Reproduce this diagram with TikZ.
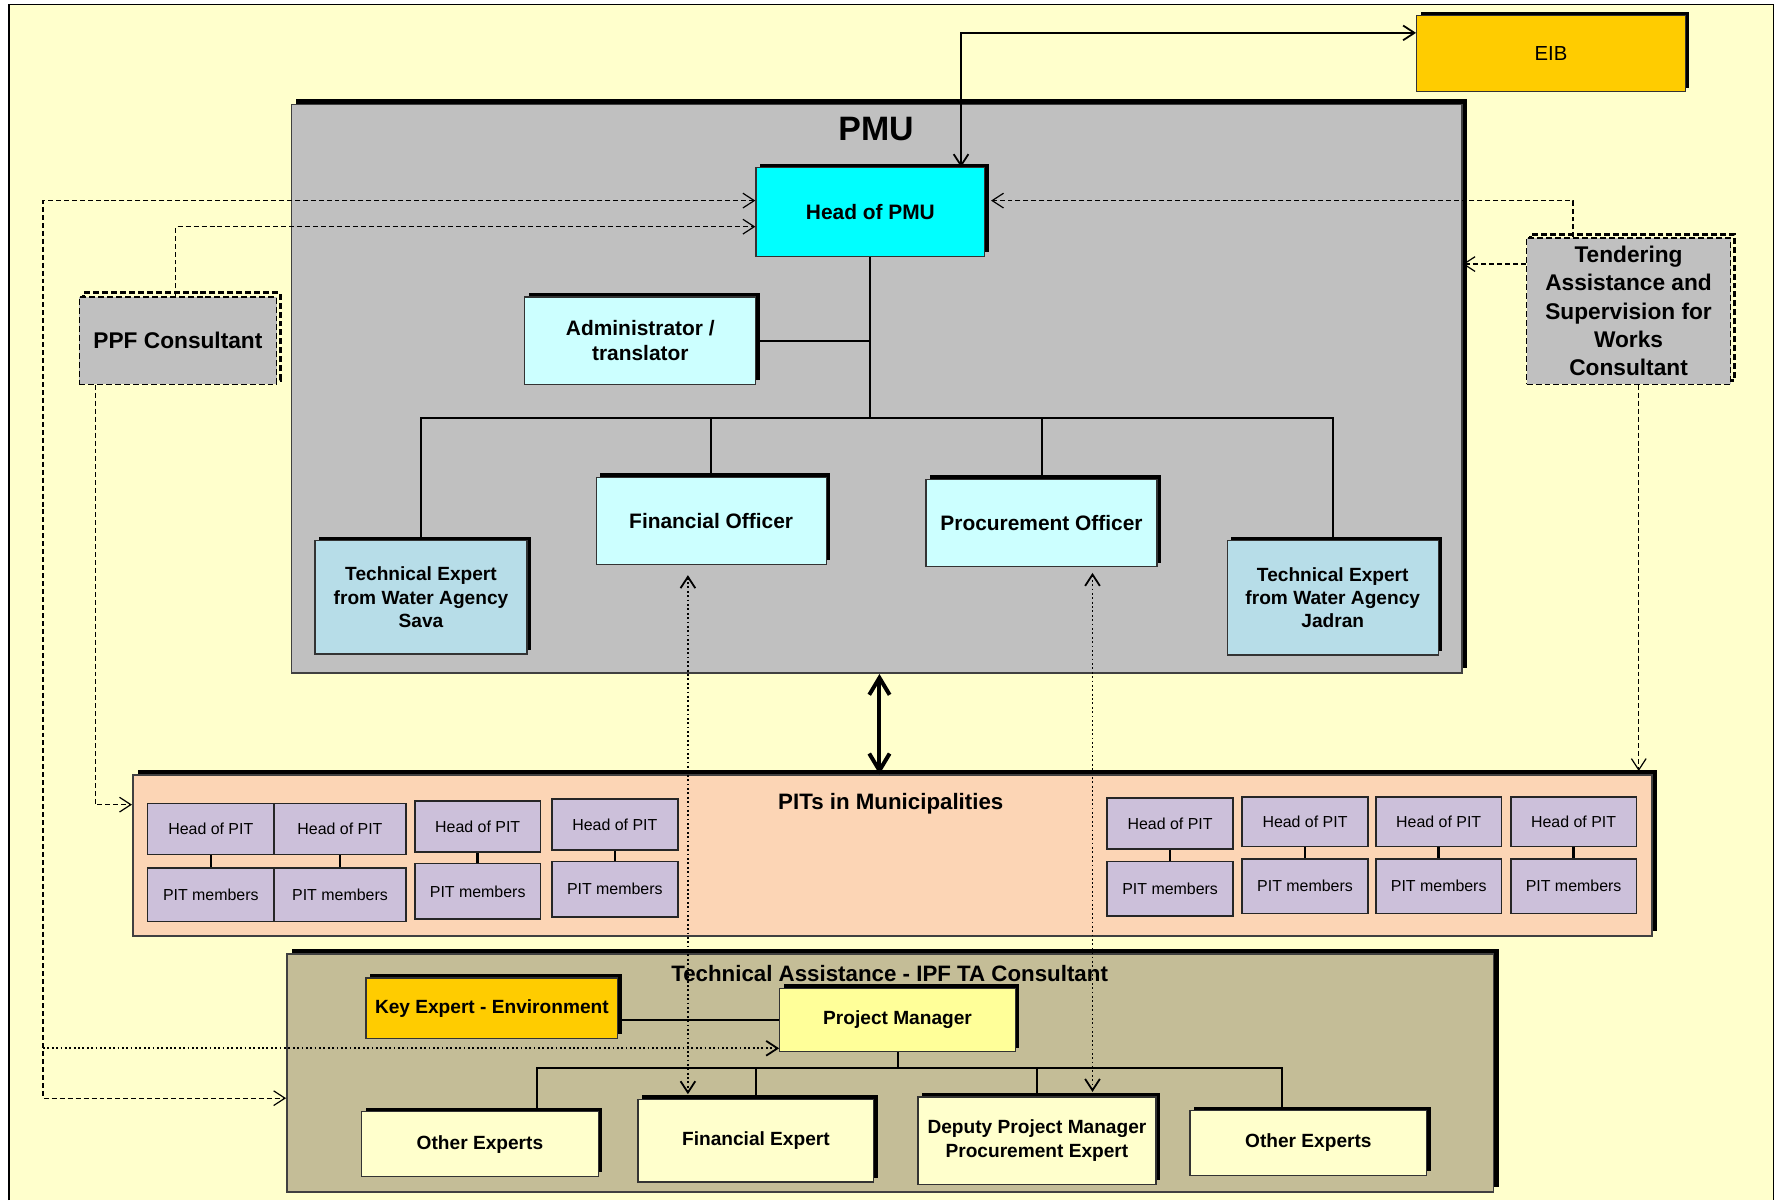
\documentclass[tikz,border=0pt]{standalone}
\usepackage{fontspec}
\setmainfont{Liberation Sans}
\usetikzlibrary{arrows.meta,shadows}

\definecolor{bgyel}{HTML}{FFFFCC}
\definecolor{pmugray}{HTML}{C0C0C0}
\definecolor{headcyan}{HTML}{00FFFF}
\definecolor{palecyan}{HTML}{CCFFFF}
\definecolor{techblue}{HTML}{B7DDE8}
\definecolor{eibgold}{HTML}{FFCC00}
\definecolor{pitpeach}{HTML}{FCD5B5}
\definecolor{pitlav}{HTML}{CCC0DA}
\definecolor{tatan}{HTML}{C4BD97}
\definecolor{pmyel}{HTML}{FFFF99}

\begin{document}
\begin{tikzpicture}[x=0.02cm, y=-0.02cm, >={Straight Barb[length=2mm,width=2.6mm]},
    box/.style={draw=black!80, line width=0.6pt, inner sep=0pt, align=center,
        font=\bfseries\fontsize{10.5}{13}\selectfont,
        drop shadow={shadow xshift=0.07cm, shadow yshift=0.07cm, fill=black, opacity=1}},
    bigbox/.style={draw=black!75, line width=0.8pt, inner sep=0pt,
        drop shadow={shadow xshift=0.09cm, shadow yshift=0.09cm, fill=black, opacity=1}},
    dashbox/.style={draw=black, dash pattern=on 3pt off 1.5pt, line width=0.6pt, fill=pmugray,
        inner sep=0pt, align=center, font=\bfseries\fontsize{11.4}{14.2}\selectfont,
        drop shadow={shadow xshift=0.07cm, shadow yshift=0.07cm, fill=none, draw=black,
            line width=1.5pt, dash pattern=on 3pt off 1.5pt, opacity=1}},
    techbox/.style={box, fill=techblue, font=\bfseries\fontsize{9.6}{11.7}\selectfont},
    tabox/.style={box, font=\bfseries\fontsize{9.6}{12}\selectfont},
    pitbox/.style={draw=black!85, line width=0.8pt, fill=pitlav, inner sep=0pt,
        minimum width=2.22cm, minimum height=0.9cm, font=\fontsize{8}{9.6}\selectfont},
    title/.style={font=\bfseries\fontsize{11.2}{13}\selectfont},
    orgln/.style={line width=1pt},
    pitln/.style={line width=1.3pt},
    dashln/.style={line width=0.6pt, dash pattern=on 2.5pt off 1.5pt},
    dotln/.style={line width=0.9pt, dash pattern=on 0.9pt off 1.3pt},
    bigarr/.style={line width=2pt, {Straight Barb[length=3mm,width=3.6mm]}-{Straight Barb[length=3mm,width=3.6mm]}}]

    \useasboundingbox (0,0) rectangle (1568,1059);
    % background sheet
    \fill[bgyel] (8,4) rectangle (1565,1059);
    \draw[line width=0.8pt] (8,1059) -- (8,4) -- (1565,4) -- (1565,1059);

    % containers
    \node[bigbox, fill=pmugray, minimum width=20.66cm, minimum height=10.04cm] (pmu) at (773.5,343) {};
    \node[bigbox, fill=pitpeach, minimum width=26.82cm, minimum height=2.84cm] (pits) at (787.5,755) {};
    \node[bigbox, fill=tatan, minimum width=21.3cm, minimum height=4.2cm] (ta) at (785.5,947) {};
    \node[font=\bfseries\fontsize{17}{20}\selectfont] (pmut) at (773,114) {PMU};
    \node[title] (pitst) at (786,709) {PITs in Municipalities};
    \node[title] (tat) at (785,859) {Technical Assistance - IPF TA Consultant};

    % outside boxes
    \node[box, fill=eibgold, font=\fontsize{10.2}{12}\selectfont, minimum width=4.74cm, minimum height=1.34cm] (eib) at (1368.5,47.5) {EIB};
    \node[dashbox, minimum width=3.48cm, minimum height=1.54cm] (ppf) at (157,300.5) {PPF Consultant};
    \node[dashbox, minimum width=3.6cm, minimum height=2.58cm] (tend) at (1437,274.5) {Tendering\\Assistance and\\Supervision for\\Works\\Consultant};

    % PMU
    \node[box, fill=headcyan, minimum width=4.04cm, minimum height=1.56cm] (head) at (768,187) {Head of PMU};
    \node[box, fill=palecyan, minimum width=4.08cm, minimum height=1.54cm] (adm) at (565,300.5) {Administrator /\\translator};
    \node[techbox, minimum width=3.74cm, minimum height=2cm] (tes) at (371.5,527) {Technical Expert\\from Water Agency\\Sava};
    \node[box, fill=palecyan, minimum width=4.06cm, minimum height=1.54cm] (fo) at (627.5,459.5) {Financial Officer};
    \node[box, fill=palecyan, minimum width=4.08cm, minimum height=1.54cm] (po) at (919,461.5) {Procurement Officer};
    \node[techbox, minimum width=3.72cm, minimum height=2.02cm] (tej) at (1176,527.5) {Technical Expert\\from Water Agency\\Jadran};

    % PITs
    \node[pitbox, minimum width=2.24cm] (h1) at (186,731.5) {Head of PIT};
    \node[pitbox, minimum width=2.24cm, minimum height=0.94cm] (m1) at (186,789.5) {PIT members};
    \node[pitbox, minimum width=2.32cm] (h2) at (300,731.5) {Head of PIT};
    \node[pitbox, minimum width=2.32cm, minimum height=0.94cm] (m2) at (300,789.5) {PIT members};
    \node[pitbox] (h3) at (421.5,729.5) {Head of PIT};
    \node[pitbox, minimum height=0.98cm] (m3) at (421.5,786.5) {PIT members};
    \node[pitbox] (h4) at (542.5,727.5) {Head of PIT};
    \node[pitbox, minimum height=0.98cm] (m4) at (542.5,784.5) {PIT members};
    \node[pitbox] (h5) at (1032.5,726.5) {Head of PIT};
    \node[pitbox, minimum height=0.96cm] (m5) at (1032.5,784) {PIT members};
    \node[pitbox, minimum height=0.88cm] (h6) at (1151.5,725) {Head of PIT};
    \node[pitbox, minimum height=0.96cm] (m6) at (1151.5,782) {PIT members};
    \node[pitbox, minimum height=0.88cm] (h7) at (1269.5,725) {Head of PIT};
    \node[pitbox, minimum height=0.96cm] (m7) at (1269.5,782) {PIT members};
    \node[pitbox, minimum height=0.88cm] (h8) at (1388.5,725) {Head of PIT};
    \node[pitbox, minimum height=0.96cm] (m8) at (1388.5,782) {PIT members};

    % TA
    \node[tabox, fill=eibgold, minimum width=4.44cm, minimum height=1.06cm] (kee) at (434,889.5) {Key Expert - Environment};
    \node[tabox, fill=pmyel, minimum width=4.16cm, minimum height=1.12cm] (pm) at (792,900) {Project Manager};
    \node[tabox, fill=bgyel, minimum width=4.18cm, minimum height=1.14cm] (oe1) at (423.5,1009.5) {Other Experts};
    \node[tabox, fill=bgyel, minimum width=4.16cm, minimum height=1.46cm] (fe) at (667,1006.5) {Financial Expert};
    \node[tabox, fill=bgyel, minimum width=4.2cm, minimum height=1.54cm] (dpm) at (915,1006.5) {Deputy Project Manager\\Procurement Expert};
    \node[tabox, fill=bgyel, minimum width=4.18cm, minimum height=1.14cm] (oe2) at (1154.5,1008.5) {Other Experts};

    % org lines PMU
    \coordinate (bus) at (0,369);
    \draw[orgln] (head.south) -- (head.south |- bus);
    \draw[orgln] (adm.east) -- (adm.east -| head.south);
    \draw[orgln] (tes.north) |- (tej.north |- bus) -- (tej.north);
    \draw[orgln] (fo.north) -- (fo.north |- bus);
    \draw[orgln] (po.north) -- (po.north |- bus);

    % org lines PITs
    \draw[pitln] (h1.south) -- (m1.north);
    \draw[pitln] (h2.south) -- (m2.north);
    \draw[pitln] (h3.south) -- (m3.north);
    \draw[pitln] (h4.south) -- (m4.north);
    \draw[pitln] (h5.south) -- (m5.north);
    \draw[pitln] (h6.south) -- (m6.north);
    \draw[pitln] (h7.south) -- (m7.north);
    \draw[pitln] (h8.south) -- (m8.north);

    % org lines TA
    \coordinate (bl) at (474,942);
    \coordinate (br) at (1131,942);
    \draw[orgln] (kee.east |- pm.west) -- (pm.west);
    \draw[orgln] (pm.south) -- (pm.south |- bl);
    \draw[orgln] (oe1.north -| bl) -- (bl) -- (br) -- (oe2.north -| br);
    \draw[orgln] (fe.north) -- (fe.north |- bl);
    \draw[orgln] (dpm.north) -- (dpm.north |- bl);

    % EIB link
    \coordinate (eibc) at (848,29);
    \draw[line width=0.9pt, <->] (head.north -| eibc) -- (eibc) -- (eib.west |- eibc);

    % PMU <-> PITs
    \coordinate (mid) at (776,0);
    \draw[bigarr] (pmu.south -| mid) -- (pits.north -| mid);

    % dashed links on the left
    \coordinate (lc) at (38,177);
    \coordinate (lm) at (38,925);
    \coordinate (lb) at (38,969);
    \draw[dashln, <->] (head.west |- lc) -- (lc) -- (lb) -- (ta.west |- lb);
    \draw[dotln, ->] (lm) -- (pm.west |- lm);
    \coordinate (pt) at (155,200);
    \coordinate (pb) at (84,710);
    \draw[dashln, ->] (ppf.north -| pt) |- (head.west |- pt);
    \draw[dashln, ->] (ppf.south -| pb) |- (pits.west |- pb);

    % dashed links on the right
    \coordinate (tt) at (1388,177);
    \coordinate (tl) at (1347,233);
    \coordinate (tb) at (1446,0);
    \draw[dashln, ->] (tend.north -| tt) |- ([xshift=0.1cm]head.east |- tt);
    \draw[dashln, ->] (tend.west |- tl) -- (pmu.east |- tl);
    \draw[dashln, ->] (tend.south -| tb) -- ([yshift=0.06cm]pits.north -| tb);

    % dotted links officers <-> experts
    \coordinate (fx) at (607,0);
    \coordinate (px) at (964,0);
    \draw[dotln, <->, shorten <=0.18cm] (fo.south -| fx) -- ([yshift=0.08cm]fe.north -| fx);
    \draw[dotln, <->, shorten <=0.1cm] (po.south -| px) -- ([yshift=0.08cm]dpm.north -| px);
\end{tikzpicture}
\end{document}
